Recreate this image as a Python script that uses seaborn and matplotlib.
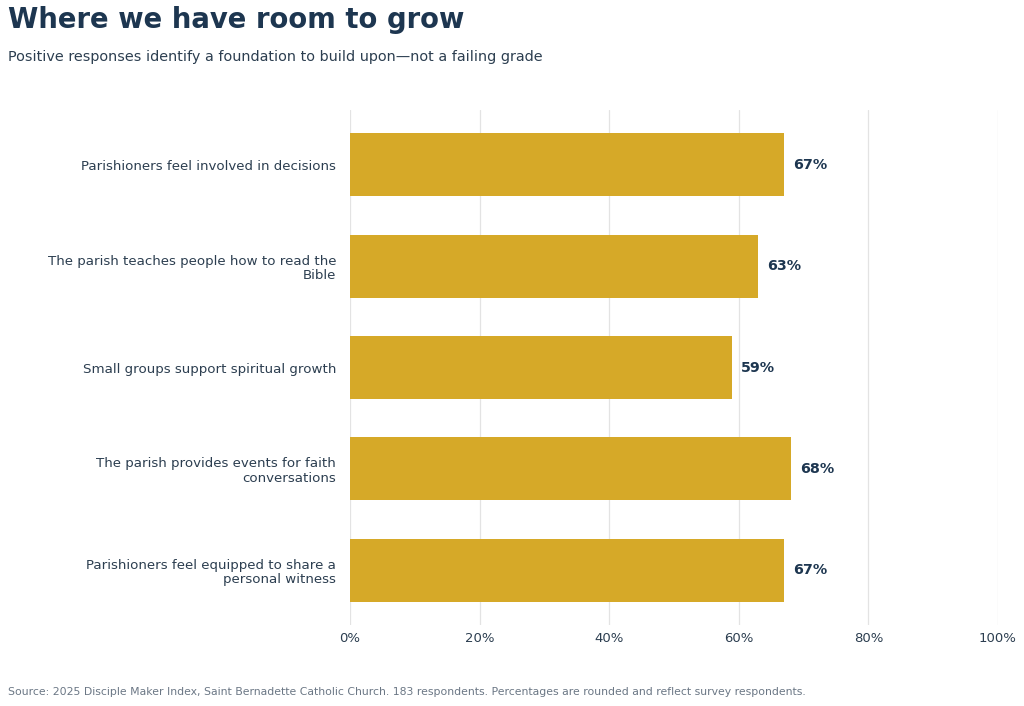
import matplotlib
matplotlib.use("Agg")
import matplotlib.pyplot as plt
import seaborn as sns
import pandas as pd
from matplotlib.ticker import FuncFormatter

categories = [
    "Parishioners feel involved in decisions",
    "The parish teaches people how to read the\nBible",
    "Small groups support spiritual growth",
    "The parish provides events for faith\nconversations",
    "Parishioners feel equipped to share a\npersonal witness",
]
values = [67, 63, 59, 68, 67]
xticks = [0, 20, 40, 60, 80, 100]

NAVY = "#1d3650"
TEXT = "#2c3e50"
GOLD = "#d6a928"

sns.set_theme(style="white")
plt.rcParams['font.family'] = ['DejaVu Sans']

df = pd.DataFrame({"cat": categories, "val": values})

fig = plt.figure(figsize=(10.24, 7.06), dpi=100)
ax = fig.add_axes([350/1024, 1-625/706, (998-350)/1024, (625-110)/706])

sns.barplot(data=df, x="val", y="cat", color=GOLD, saturation=1, width=0.62, ax=ax,
            orient="h", zorder=3, linewidth=0)

ax.set_xlim(0, 100)
ax.set_ylim(4.54, -0.54)
ax.set_xticks(xticks)
ax.xaxis.set_major_formatter(FuncFormatter(lambda v, p: f"{v:.0f}%"))
ax.grid(axis="x", color="#e3e3e3", linewidth=0.9, zorder=0)
ax.grid(axis="y", visible=False)
for s in ax.spines.values():
    s.set_visible(False)
ax.set_xlabel("")
ax.set_ylabel("")
ax.tick_params(axis="x", labelsize=9.5, colors=TEXT, length=0, pad=5)
ax.tick_params(axis="y", labelsize=9.6, colors=TEXT, length=0, pad=10)
for lab in ax.get_yticklabels():
    lab.set_linespacing(1.15)

for i, v in enumerate(values):
    ax.annotate(f"{v}%", xy=(v, i), xytext=(6.5, 0), textcoords="offset points",
                va="center", ha="left", fontsize=10.3, fontweight="bold", color=NAVY)

fig.text(8/1024, 1-20/706, "Where we have room to grow", fontsize=19.8, fontweight="bold",
         color=NAVY, va="center", ha="left")
fig.text(8/1024, 1-57/706, "Positive responses identify a foundation to build upon\u2014not a failing grade",
         fontsize=10.4, color=TEXT, va="center", ha="left")
fig.text(8/1024, 1-692/706, "Source: 2025 Disciple Maker Index, Saint Bernadette Catholic Church. 183 respondents. Percentages are rounded and reflect survey respondents.",
         fontsize=7.8, color="#6b7785", va="center", ha="left")

fig.savefig("out.png", dpi=100, facecolor="white")
